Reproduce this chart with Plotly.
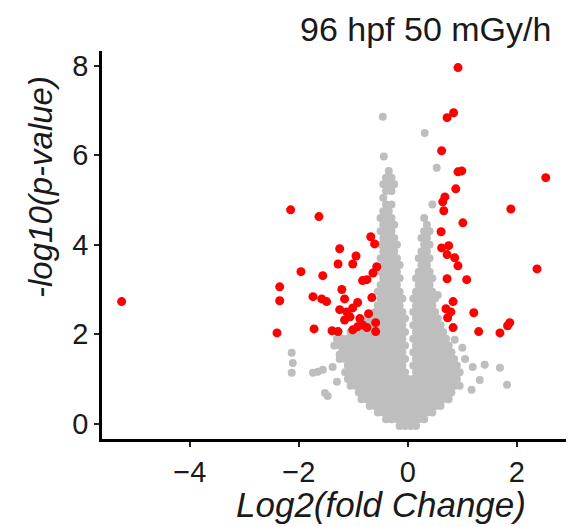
import plotly.graph_objects as go

# --- data (log2 fold change, -log10 p) ---
# significant genes (red)
sig_fc = [-5.25, 0.92, 0.84, 0.72, 0.62, 0.99, 0.92, 0.88, 2.53, 0.68,
          0.64, 0.66, 1.89, -2.15, -1.63, 1.01, 0.61, 0.62, 0.75, 0.72,
          0.86, 0.92, 2.37, 0.72, 1.08, 0.83, 0.70, 0.79, 0.73, 1.21,
          0.83, 1.30, 1.69, 1.83, 1.87, -0.68, -0.61, -1.25, -0.95, -1.28,
          -1.01, -0.57, -0.64, -0.83, -0.75, -1.96, -1.56, -2.35, -2.35, -2.40,
          -1.21, -1.74, -1.58, -1.49, -1.16, -0.66, -0.92, -1.25, -1.12, -1.01,
          -0.72, -1.06, -1.16, -0.88, -0.59, -0.83, -1.72, -1.39, -1.28, -1.01,
          -0.92, -0.75, -0.59]
sig_p = [2.73, 7.96, 6.95, 6.84, 6.10, 5.65, 5.63, 5.25, 5.50, 5.07,
         4.96, 4.76, 4.80, 4.78, 4.63, 4.49, 4.29, 3.93, 3.98, 3.78,
         3.71, 3.53, 3.46, 3.24, 3.22, 2.73, 2.57, 2.50, 2.37, 2.48,
         2.15, 2.06, 2.03, 2.19, 2.26, 4.18, 4.02, 3.91, 3.75, 3.57,
         3.57, 3.51, 3.37, 3.20, 3.22, 3.40, 3.31, 3.06, 2.75, 2.03,
         3.00, 2.84, 2.79, 2.73, 2.79, 2.82, 2.71, 2.55, 2.50, 2.59,
         2.46, 2.39, 2.32, 2.35, 2.26, 2.21, 2.12, 2.08, 2.06, 2.10,
         2.17, 2.15, 2.06]

# non-significant genes (grey): the dense volcano, row by row
ns_row_p = [-0.05, 0.1, 0.25, 0.4, 0.55, 0.7, 0.85, 1.0, 1.15, 1.3,
            1.45, 1.6, 1.75, 1.9, 2.05, 2.2, 2.35, 2.5, 2.65, 2.8,
            2.95, 3.1, 3.25, 3.4, 3.55, 3.7, 3.85, 4.0, 4.15, 4.3,
            4.45, 4.6, 4.75, 4.9, 5.05, 5.2, 5.35, 5.5, 5.65]
ns_row_fc = [
    [-0.15, -0.05, 0.05, 0.15],
    [-0.4, -0.3, -0.2, -0.1, 0.0, 0.1, 0.2, 0.3],
    [-0.55, -0.45, -0.35, -0.25, -0.15, -0.05, 0.05, 0.15, 0.25, 0.35, 0.45],
    [-0.7, -0.6, -0.5, -0.4, -0.3, -0.2, -0.1, 0.0, 0.1, 0.2, 0.3, 0.4, 0.5, 0.6],
    [-0.85, -0.75, -0.65, -0.55, -0.45, -0.35, -0.25, -0.15, -0.05, 0.05, 0.15,
     0.25, 0.35, 0.45, 0.55, 0.65, 0.75],
    [-0.9, -0.8, -0.7, -0.6, -0.5, -0.4, -0.3, -0.2, -0.1, 0.0, 0.1, 0.2, 0.3,
     0.4, 0.5, 0.6, 0.7, 0.8],
    [-1.05, -0.95, -0.85, -0.75, -0.65, -0.55, -0.45, -0.35, -0.25, -0.15, -0.05,
     0.05, 0.15, 0.25, 0.35, 0.45, 0.55, 0.65, 0.75, 0.85, 0.95],
    [-1.1, -1.0, -0.9, -0.8, -0.7, -0.6, -0.5, -0.4, -0.3, -0.2, -0.1, 0.0, 0.1,
     0.2, 0.3, 0.4, 0.5, 0.6, 0.7, 0.8, 0.9],
    [-1.15, -1.05, -0.95, -0.85, -0.75, -0.65, -0.55, -0.45, -0.35, -0.25, -0.15,
     -0.05, 0.15, 0.25, 0.35, 0.45, 0.55, 0.65, 0.75, 0.85, 0.95],
    [-1.1, -1.0, -0.9, -0.8, -0.7, -0.6, -0.5, -0.4, -0.3, -0.2, -0.1, 0.1, 0.2,
     0.3, 0.4, 0.5, 0.6, 0.7, 0.8, 0.9],
    [-1.25, -1.15, -1.05, -0.95, -0.85, -0.75, -0.65, -0.55, -0.45, -0.35, -0.25,
     -0.15, -0.05, 0.15, 0.25, 0.35, 0.45, 0.55, 0.65, 0.75, 0.85],
    [-1.2, -1.1, -1.0, -0.9, -0.8, -0.7, -0.6, -0.5, -0.4, -0.3, -0.2, -0.1, 0.1,
     0.2, 0.3, 0.4, 0.5, 0.6, 0.7, 0.8],
    [-1.35, -1.25, -1.15, -1.05, -0.95, -0.85, -0.75, -0.65, -0.55, -0.45, -0.35,
     -0.25, -0.15, -0.05, 0.15, 0.25, 0.35, 0.45, 0.55, 0.65, 0.75],
    [-1.3, -1.2, -1.1, -1.0, -0.9, -0.8, -0.7, -0.6, -0.5, -0.4, -0.3, -0.2, -0.1,
     0.1, 0.2, 0.3, 0.4, 0.5, 0.6, 0.7],
    [-1.05, -0.95, -0.85, -0.75, -0.65, -0.55, -0.45, -0.35, -0.25, -0.15, -0.05,
     0.15, 0.25, 0.35, 0.45, 0.55, 0.65],
    [-0.9, -0.8, -0.7, -0.6, -0.5, -0.4, -0.3, -0.2, -0.1, 0.1, 0.2, 0.3, 0.4, 0.5, 0.6],
    [-0.75, -0.65, -0.55, -0.45, -0.35, -0.25, -0.15, -0.05, 0.15, 0.25, 0.35, 0.45, 0.55],
    [-0.6, -0.5, -0.4, -0.3, -0.2, -0.1, 0.1, 0.2, 0.3, 0.4, 0.5],
    [-0.55, -0.45, -0.35, -0.25, -0.15, 0.15, 0.25, 0.35, 0.45],
    [-0.5, -0.4, -0.3, -0.2, -0.1, 0.1, 0.2, 0.3, 0.4, 0.5],
    [-0.55, -0.45, -0.35, -0.25, -0.15, 0.15, 0.25, 0.35, 0.45],
    [-0.5, -0.4, -0.3, -0.2, 0.2, 0.3, 0.4],
    [-0.45, -0.35, -0.25, -0.15, 0.15, 0.25, 0.35, 0.45],
    [-0.5, -0.4, -0.3, -0.2, 0.2, 0.3, 0.4],
    [-0.45, -0.35, -0.25, -0.15, 0.25, 0.35],
    [-0.5, -0.4, -0.3, -0.2, 0.2, 0.3, 0.4],
    [-0.45, -0.35, -0.25, 0.25, 0.35],
    [-0.5, -0.4, -0.3, -0.2, 0.3, 0.4],
    [-0.45, -0.35, -0.25, 0.25, 0.35],
    [-0.5, -0.4, -0.3, 0.3, 0.4],
    [-0.45, -0.35, -0.25, 0.35],
    [-0.5, -0.4, -0.3, 0.3],
    [-0.45, -0.35],
    [-0.4, -0.3, 0.45],
    [-0.45],
    [-0.4, -0.3],
    [-0.45, -0.35, -0.25],
    [-0.4, -0.3],
    [-0.35],
]
# scattered grey genes outside the main cloud
ns_out_fc = [-2.13, -2.11, -2.13, -1.74, -1.65, -1.56, -1.38, -1.52, -1.47, -1.30,
             -1.25, 1.19, 1.41, 1.69, 1.82, 1.17, 1.32, 1.00, 0.86, 0.55,
             0.31, -0.46, -0.44, 0.31, 0.53, 1.05]
ns_out_p = [1.59, 1.36, 1.14, 1.14, 1.16, 1.21, 1.27, 0.69, 0.62, 0.94,
            1.55, 1.27, 1.32, 1.25, 0.87, 0.76, 0.98, 1.70, 1.88, 2.88,
            2.99, 6.86, 5.97, 6.50, 5.72, 1.45]

x_ticks = [-4, -2, 0, 2]
y_ticks = [0, 2, 4, 6, 8]

ns_fc, ns_p = [], []
for p, row in zip(ns_row_p, ns_row_fc):
    ns_fc += row
    ns_p += [p] * len(row)
ns_fc += ns_out_fc
ns_p += ns_out_p

# page body adds an 8px offset, so the figure is 8px smaller and shifted
OFF = 8
W, H = 574 - OFF, 527 - OFF
# plot area in window pixels: x 102..567, y 51..439
L, T = 102 - OFF, 51 - OFF
R, B = W - (567 - OFF), H - (439 - OFF)
pw, ph = W - L - R, H - T - B


def px(x):  # window pixel x -> paper
    return (x - OFF - L) / pw


def py(y):  # window pixel y -> paper
    return (H - B - (y - OFF)) / ph


font = "Liberation Sans, Arial, sans-serif"

fig = go.Figure()
fig.add_trace(go.Scatter(x=ns_fc, y=ns_p, mode="markers",
                         marker=dict(color="#BEBEBE", size=8, line=dict(width=0)),
                         showlegend=False, hoverinfo="skip"))
fig.add_trace(go.Scatter(x=sig_fc, y=sig_p, mode="markers",
                         marker=dict(color="#FF0000", size=9, line=dict(width=0)),
                         showlegend=False))

axis_common = dict(showline=True, linecolor="black", linewidth=2.5,
                   ticks="outside", ticklen=5, tickwidth=2, tickcolor="#222",
                   showgrid=False, zeroline=False,
                   tickfont=dict(family=font, size=29, color="#1a1a1a"))
fig.update_xaxes(range=[-5.61, 2.92], tickvals=x_ticks, **axis_common)
fig.update_yaxes(range=[-0.34, 8.33], tickvals=y_ticks, **axis_common)

fig.add_annotation(text="96 hpf 50 mGy/h", x=px(425), y=py(29), xref="paper", yref="paper",
                   showarrow=False, xanchor="center", yanchor="middle",
                   font=dict(family=font, size=34, color="#1a1a1a"))
fig.add_annotation(text="Log2(fold Change)", x=px(381), y=py(504), xref="paper", yref="paper",
                   showarrow=False, xanchor="center", yanchor="middle",
                   font=dict(family=font, size=35, color="#1a1a1a", style="italic"))
fig.add_annotation(text="-log10(p-value)", x=px(40), y=py(187), xref="paper", yref="paper",
                   showarrow=False, xanchor="center", yanchor="middle", textangle=-90,
                   font=dict(family=font, size=33, color="#1a1a1a", style="italic"))

fig.update_layout(width=W, height=H, margin=dict(l=L, r=R, t=T, b=B),
                  plot_bgcolor="white", paper_bgcolor="white")
fig.write_html("out.html")
